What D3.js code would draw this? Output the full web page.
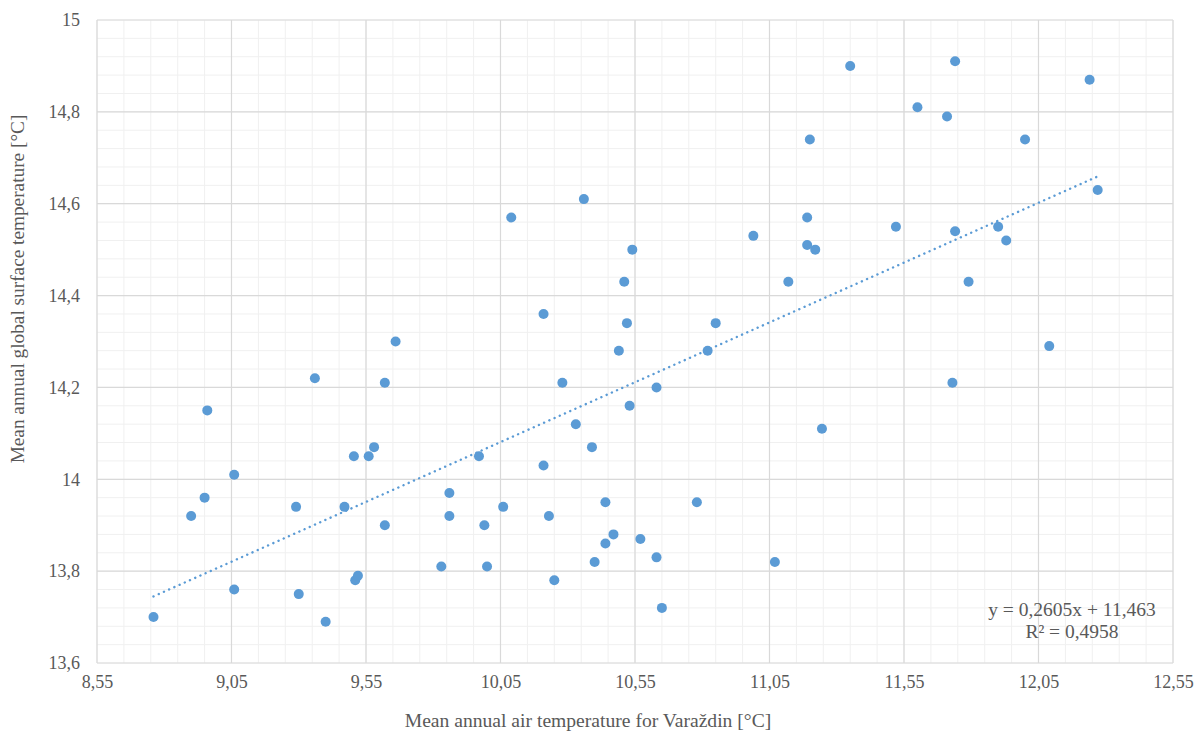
<!DOCTYPE html>
<html lang="en">
<head>
    <meta charset="UTF-8">
    <title>Varaždin vs global temperature</title>
    <style>
        body {
            margin: 0;
            background-color: #fff;
        }
    </style>
</head>
<body>

<div id="chart"></div>

<script src="https://d3js.org/d3.v7.min.js"></script>
<script>
    // Mean annual air temperature for Varaždin [°C]
    const xVarazdin = [
        8.76, 8.90, 8.95, 8.96, 9.06, 9.06, 9.29, 9.30, 9.36, 9.40,
        9.47, 9.505, 9.51, 9.52, 9.56, 9.58, 9.62, 9.62, 9.66, 9.83,
        9.86, 9.86, 9.97, 9.99, 10.00, 10.06, 10.09, 10.21, 10.21, 10.23,
        10.25, 10.28, 10.33, 10.36, 10.39, 10.40, 10.44, 10.44, 10.47, 10.49,
        10.51, 10.52, 10.54, 10.53, 10.57, 10.63, 10.63, 10.65, 10.78, 10.82,
        10.85, 10.99, 11.07, 11.12, 11.19, 11.19, 11.20, 11.22, 11.245, 11.35,
        11.52, 11.60, 11.71, 11.73, 11.74, 11.74, 11.79, 11.90, 11.93, 12.00,
        12.09, 12.24, 12.27
    ];

    // Mean annual global surface temperature [°C]
    const yGlobal = [
        13.70, 13.92, 13.96, 14.15, 14.01, 13.76, 13.94, 13.75, 14.22, 13.69,
        13.94, 14.05, 13.78, 13.79, 14.05, 14.07, 13.90, 14.21, 14.30, 13.81,
        13.97, 13.92, 14.05, 13.90, 13.81, 13.94, 14.57, 14.36, 14.03, 13.92,
        13.78, 14.21, 14.12, 14.61, 14.07, 13.82, 13.95, 13.86, 13.88, 14.28,
        14.43, 14.34, 14.50, 14.16, 13.87, 14.20, 13.83, 13.72, 13.95, 14.28,
        14.34, 14.53, 13.82, 14.43, 14.57, 14.51, 14.74, 14.50, 14.11, 14.90,
        14.55, 14.81, 14.79, 14.21, 14.54, 14.91, 14.43, 14.55, 14.52, 14.74,
        14.29, 14.87, 14.63
    ];

    // linear trendline as reported by the chart
    const trendSlope = 0.2605;
    const trendIntercept = 11.463;
    const trendLabel = ["y = 0,2605x + 11,463", "R² = 0,4958"];

    const xTicks = [8.55, 9.05, 9.55, 10.05, 10.55, 11.05, 11.55, 12.05, 12.55];
    const yTicks = [13.6, 13.8, 14, 14.2, 14.4, 14.6, 14.8, 15];

    const width = 1204;
    const height = 733;
    const margin = {top: 20, right: 31, bottom: 70, left: 97};
    const serif = "'Liberation Serif', 'Times New Roman', serif";
    const textColor = "#595959";

    const svg = d3.select("#chart")
        .append("svg")
        .attr("width", width)
        .attr("height", height);

    const x = d3.scaleLinear()
        .domain([8.55, 12.55])
        .range([margin.left, width - margin.right]);

    const y = d3.scaleLinear()
        .domain([13.6, 15])
        .range([height - margin.bottom, margin.top]);

    const fmt = d => String(+d.toFixed(2)).replace(".", ",");

    // minor grid
    const xMinor = d3.range(0, 41).map(i => 8.55 + i * 0.1);
    const yMinor = d3.range(0, 36).map(i => 13.6 + i * 0.04);

    svg.append("g")
        .selectAll("line")
        .data(xMinor)
        .join("line")
        .attr("x1", d => x(d)).attr("x2", d => x(d))
        .attr("y1", y(13.6)).attr("y2", y(15))
        .attr("stroke", "#f0f0f0")
        .attr("stroke-width", 1);

    svg.append("g")
        .selectAll("line")
        .data(yMinor)
        .join("line")
        .attr("x1", x(8.55)).attr("x2", x(12.55))
        .attr("y1", d => y(d)).attr("y2", d => y(d))
        .attr("stroke", "#f0f0f0")
        .attr("stroke-width", 1);

    // major grid
    svg.append("g")
        .selectAll("line")
        .data(xTicks)
        .join("line")
        .attr("x1", d => x(d)).attr("x2", d => x(d))
        .attr("y1", y(13.6)).attr("y2", y(15))
        .attr("stroke", "#d9d9d9")
        .attr("stroke-width", 1.2);

    svg.append("g")
        .selectAll("line")
        .data(yTicks)
        .join("line")
        .attr("x1", x(8.55)).attr("x2", x(12.55))
        .attr("y1", d => y(d)).attr("y2", d => y(d))
        .attr("stroke", "#d9d9d9")
        .attr("stroke-width", 1.2);

    // axes (labels only)
    const xAxis = svg.append("g")
        .attr("transform", `translate(0,${height - margin.bottom})`)
        .call(d3.axisBottom(x).tickValues(xTicks).tickFormat(fmt).tickSize(0).tickPadding(12));
    xAxis.select(".domain").remove();
    xAxis.selectAll("text")
        .attr("fill", textColor)
        .style("font-family", serif)
        .style("font-size", "18px");

    const yAxis = svg.append("g")
        .attr("transform", `translate(${margin.left},0)`)
        .call(d3.axisLeft(y).tickValues(yTicks).tickFormat(fmt).tickSize(0).tickPadding(17));
    yAxis.select(".domain").remove();
    yAxis.selectAll("text")
        .attr("fill", textColor)
        .style("font-family", serif)
        .style("font-size", "18px");

    // trendline
    const xExt = d3.extent(xVarazdin);
    svg.append("line")
        .attr("x1", x(xExt[0]))
        .attr("y1", y(trendSlope * xExt[0] + trendIntercept))
        .attr("x2", x(xExt[1]))
        .attr("y2", y(trendSlope * xExt[1] + trendIntercept))
        .attr("stroke", "#5b9bd5")
        .attr("stroke-width", 2.4)
        .attr("stroke-linecap", "round")
        .attr("stroke-dasharray", "0.1 5.6");

    // points
    svg.append("g")
        .selectAll("circle")
        .data(xVarazdin)
        .join("circle")
        .attr("cx", d => x(d))
        .attr("cy", (d, i) => y(yGlobal[i]))
        .attr("r", 5)
        .attr("fill", "#5b9bd5");

    // equation label
    svg.append("g")
        .attr("font-family", serif)
        .attr("font-size", 19.5)
        .attr("fill", textColor)
        .selectAll("text")
        .data(trendLabel)
        .join("text")
        .attr("x", 1072)
        .attr("y", (d, i) => 616 + i * 22)
        .attr("text-anchor", "middle")
        .text(d => d);

    // axis titles
    svg.append("text")
        .attr("x", 588)
        .attr("y", 727)
        .attr("text-anchor", "middle")
        .attr("font-family", serif)
        .attr("font-size", 19.6)
        .attr("fill", textColor)
        .text("Mean annual air temperature for Varaždin [°C]");

    svg.append("text")
        .attr("transform", "translate(24,289) rotate(-90)")
        .attr("text-anchor", "middle")
        .attr("font-family", serif)
        .attr("font-size", 19.3)
        .attr("fill", textColor)
        .text("Mean annual global surface temperature [°C]");
</script>

</body>
</html>
